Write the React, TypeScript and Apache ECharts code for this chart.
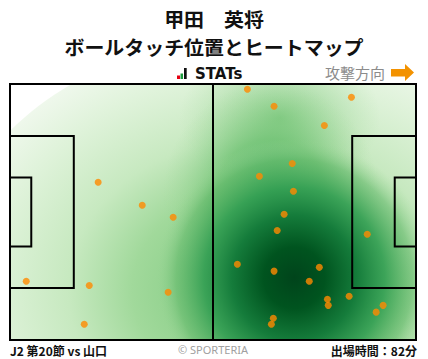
import React, { useEffect, useRef } from "react";
import * as echarts from "echarts";

// Pitch size (metres)
const PITCH_LENGTH = 105;
const PITCH_WIDTH = 68;

// Ball-touch positions (metres, x from own goal line, y from top touchline)
const touchX = [22.8, 34.2, 42.2, 4.2, 20.5, 40.9, 19.2, 61.4, 68.3, 88.3, 81.3, 73.0, 64.5, 73.3, 70.9, 69.1, 92.4, 58.8, 68.3, 80.0, 77.4, 82.1, 82.3, 87.7, 96.5, 94.7, 68.1, 67.6];
const touchY = [26.1, 32.2, 35.4, 52.4, 53.5, 55.3, 63.8, 1.4, 5.9, 3.5, 11.0, 21.1, 24.5, 28.5, 34.6, 38.9, 39.9, 47.9, 49.7, 48.7, 52.4, 57.2, 58.8, 56.4, 58.8, 60.6, 62.2, 63.8];

// Heat areas (centre and spread, metres)
const heatX = [64.7, 69.8, 67.5, 90.5, 73.5];
const heatY = [54.7, 9.0, 29.5, 57.4, 51.5];
const heatSpreadX = [82.8, 26.0, 28.0, 23.3, 36.0];
const heatSpreadY = [67.7, 20.0, 30.0, 16.0, 37.0];

// Pitch markings as rectangles [x0, y0, x1, y1] (metres)
const markX0 = [0, 0, 0, 88.5, 99.5, 52.5];
const markY0 = [0, 13.84, 24.84, 13.84, 24.84, 0];
const markX1 = [105, 16.5, 5.5, 105, 105, 52.5];
const markY1 = [68, 54.16, 43.16, 54.16, 43.16, 68];

const TITLE_LINES = ["甲田　英将", "ボールタッチ位置とヒートマップ"];

const FONT = '"Noto Sans CJK JP", "Noto Sans", sans-serif';

const heatStops = [
  [
    { offset: 0, color: "#74c476" },
    { offset: 0.4, color: "#a1d99b" },
    { offset: 0.6, color: "#c7e9c0" },
    { offset: 0.85, color: "#e0f3db" },
    { offset: 1, color: "#eff8ec" },
  ],
  [
    { offset: 0, color: "rgba(116,196,118,0.8)" },
    { offset: 1, color: "rgba(161,217,155,0)" },
  ],
  [
    { offset: 0, color: "rgba(65,171,93,0.9)" },
    { offset: 0.5, color: "rgba(100,189,106,0.65)" },
    { offset: 1, color: "rgba(161,217,155,0)" },
  ],
  [
    { offset: 0, color: "rgba(100,189,106,0.6)" },
    { offset: 1, color: "rgba(161,217,155,0)" },
  ],
  [
    { offset: 0, color: "#00441b" },
    { offset: 0.22, color: "#00541f" },
    { offset: 0.45, color: "#157c3b" },
    { offset: 0.65, color: "rgba(50,158,82,0.9)" },
    { offset: 0.85, color: "rgba(90,180,100,0.5)" },
    { offset: 1, color: "rgba(161,217,155,0)" },
  ],
];

export default function App() {
  const ref = useRef<HTMLDivElement>(null);
  useEffect(() => {
    if (!ref.current) return;
    const chart = echarts.init(ref.current, null, { renderer: "svg" });
    const heatData = heatX.map((x, i) => [x, heatY[i], heatSpreadX[i], heatSpreadY[i], i]);
    const markData = markX0.map((x, i) => [x, markY0[i], markX1[i], markY1[i]]);
    const touchData = touchX.map((x, i) => [x, touchY[i]]);

    chart.setOption({
      animation: false,
      grid: { left: 10, top: 84, width: 406, height: 256 },
      xAxis: { type: "value", min: 0, max: PITCH_LENGTH, show: false },
      yAxis: { type: "value", min: 0, max: PITCH_WIDTH, inverse: true, show: false },
      series: [
        {
          type: "custom",
          clip: true,
          z: 1,
          silent: true,
          data: heatData,
          renderItem: (params: any, api: any) => {
            const cx = api.value(0), cy = api.value(1), rx = api.value(2), ry = api.value(3);
            const idx = api.value(4);
            const p0 = api.coord([cx - rx, cy - ry]);
            const p1 = api.coord([cx + rx, cy + ry]);
            return {
              type: "ellipse",
              shape: {
                cx: (p0[0] + p1[0]) / 2,
                cy: (p0[1] + p1[1]) / 2,
                rx: Math.abs(p1[0] - p0[0]) / 2,
                ry: Math.abs(p1[1] - p0[1]) / 2,
              },
              style: { fill: new echarts.graphic.RadialGradient(0.5, 0.5, 0.5, heatStops[idx]) },
            };
          },
        },
        {
          type: "custom",
          clip: false,
          z: 2,
          silent: true,
          data: markData,
          renderItem: (params: any, api: any) => {
            const a = api.coord([api.value(0), api.value(1)]);
            const b = api.coord([api.value(2), api.value(3)]);
            if (a[0] === b[0]) {
              return {
                type: "line",
                shape: { x1: a[0], y1: a[1], x2: b[0], y2: b[1] },
                style: { stroke: "#000", lineWidth: 2 },
              };
            }
            return {
              type: "rect",
              shape: { x: a[0], y: a[1], width: b[0] - a[0], height: b[1] - a[1] },
              style: { fill: "none", stroke: "#000", lineWidth: 2 },
            };
          },
        },
        {
          type: "scatter",
          z: 3,
          data: touchData,
          symbolSize: 7,
          itemStyle: { color: "#ff8a00" },
        },
      ],
      graphic: [
        {
          type: "text", x: 214, y: 18.5, scaleX: 1.05,
          style: { text: TITLE_LINES[0], font: `bold 19px ${FONT}`, fill: "#111", textAlign: "center", textVerticalAlign: "middle" },
        },
        {
          type: "text", x: 214, y: 46.5, scaleX: 1.05,
          style: { text: TITLE_LINES[1], font: `bold 19px ${FONT}`, fill: "#111", textAlign: "center", textVerticalAlign: "middle" },
        },
        { type: "rect", shape: { x: 177, y: 75.5, width: 3, height: 3.5 }, style: { fill: "#e60012" } },
        { type: "rect", shape: { x: 180.5, y: 73.5, width: 2.5, height: 5.5 }, style: { fill: "#1a9b3c" } },
        { type: "rect", shape: { x: 184, y: 68, width: 2.7, height: 11 }, style: { fill: "#111" } },
        {
          type: "text", x: 195, y: 74,
          style: { text: "STATs", font: `bold 15px "DejaVu Sans", sans-serif`, fill: "#111", textVerticalAlign: "middle" },
        },
        {
          type: "text", x: 385, y: 72,
          style: { text: "攻撃方向", font: `15px ${FONT}`, fill: "#8c8c8c", textAlign: "right", textVerticalAlign: "middle" },
        },
        {
          type: "polygon",
          shape: { points: [[391, 69], [405, 69], [405, 64], [414, 72.5], [405, 81], [405, 76.5], [391, 76.5]] },
          style: { fill: "#f39200" },
        },
        {
          type: "text", x: 10, y: 350,
          style: { text: "J2 第20節 vs 山口", font: `bold 12px ${FONT}`, fill: "#111", textVerticalAlign: "middle" },
        },
        {
          type: "text", x: 213, y: 349,
          style: { text: "© SPORTERIA", font: `11px "Noto Sans", sans-serif`, fill: "#a0a0a0", textAlign: "center", textVerticalAlign: "middle" },
        },
        {
          type: "text", x: 417, y: 350,
          style: { text: "出場時間：82分", font: `bold 12px ${FONT}`, fill: "#111", textAlign: "right", textVerticalAlign: "middle" },
        },
      ],
    });
    return () => chart.dispose();
  }, []);
  return (
    <div
      ref={ref}
      style={{ position: "fixed", left: 0, top: 0, width: 428, height: 359, background: "#fff" }}
    />
  );
}
